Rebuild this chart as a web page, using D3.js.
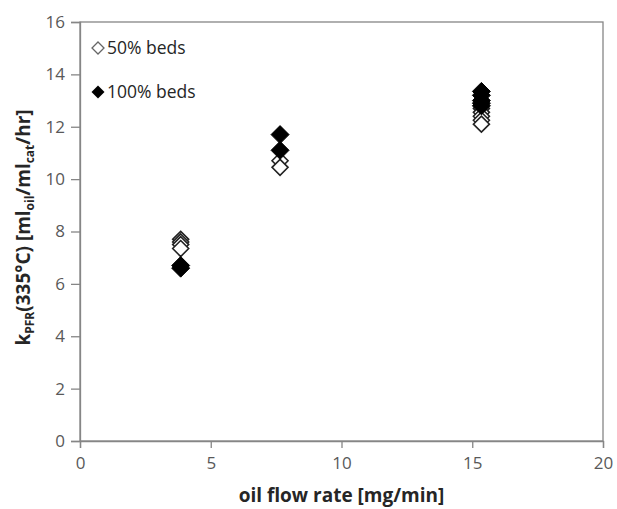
<!DOCTYPE html>
<html><head><meta charset="utf-8">
<script src="https://cdn.jsdelivr.net/npm/d3@7"></script>
<style>body{margin:0;background:#fff}svg{display:block}</style>
</head><body>
<script>
const seriesNames = ["50% beds", "100% beds"];
const x50 = [3.85, 3.85, 3.85, 3.85, 7.65, 7.65, 15.35, 15.35, 15.35, 15.35, 15.35];
const y50 = [7.7, 7.6, 7.5, 7.35, 10.7, 10.45, 12.7, 12.55, 12.4, 12.25, 12.1];
const x100 = [3.85, 3.85, 7.65, 7.65, 15.35, 15.35, 15.35, 15.35, 15.35];
const y100 = [6.7, 6.6, 11.1, 11.7, 13.35, 13.2, 13.0, 12.9, 12.8];
const xTicks = [0, 5, 10, 15, 20];
const yTicks = [0, 2, 4, 6, 8, 10, 12, 14, 16];

const W = 617, H = 509;
const m = {l: 80, r: 14, t: 22, b: 68};
const svg = d3.select("body").append("svg").attr("width", W).attr("height", H);
const x = d3.scaleLinear().domain([0, 20]).range([m.l, W - m.r]);
const y = d3.scaleLinear().domain([0, 16]).range([H - m.b, m.t]);
const font = "'Open Sans', sans-serif";
const axisCol = "#868686";

svg.append("rect").attr("x", x(0)).attr("y", y(16)).attr("width", x(20) - x(0)).attr("height", y(0) - y(16))
  .attr("fill", "none").attr("stroke", axisCol).attr("stroke-width", 1.3);

const xa = svg.append("g").attr("transform", `translate(0,${y(0)})`)
  .call(d3.axisBottom(x).tickValues(xTicks).tickSize(7).tickPadding(9).tickFormat(d3.format("d")));
const ya = svg.append("g").attr("transform", `translate(${x(0)},0)`)
  .call(d3.axisLeft(y).tickValues(yTicks).tickSize(9).tickPadding(6).tickFormat(d3.format("d")));
[xa, ya].forEach(g => {
  g.select(".domain").attr("stroke", axisCol).attr("stroke-width", 1.3);
  g.selectAll(".tick line").attr("stroke", axisCol).attr("stroke-width", 1.3);
  g.selectAll(".tick text").attr("fill", "#595959").attr("font-size", 17).attr("font-family", font);
});

function dpath(r) { return `M0,${-r}L${r},0L0,${r}L${-r},0Z`; }

svg.append("g").selectAll("path").data(x50.map((v, i) => [v, y50[i]])).join("path")
  .attr("d", dpath(8)).attr("transform", d => `translate(${x(d[0])},${y(d[1])})`)
  .attr("fill", "#fff").attr("stroke", "#222").attr("stroke-width", 1.6);
svg.append("g").selectAll("path").data(x100.map((v, i) => [v, y100[i]])).join("path")
  .attr("d", dpath(9)).attr("transform", d => `translate(${x(d[0])},${y(d[1])})`)
  .attr("fill", "#000").attr("stroke", "#000").attr("stroke-width", 1);

const lg = svg.append("g");
lg.append("path").attr("d", dpath(6)).attr("transform", "translate(98,48)")
  .attr("fill", "#fff").attr("stroke", "#666").attr("stroke-width", 1.3);
lg.append("text").attr("x", 107).attr("y", 54).text(seriesNames[0])
  .attr("font-family", font).attr("font-size", 17.5).attr("fill", "#262626");
lg.append("path").attr("d", dpath(6.5)).attr("transform", "translate(98,92)").attr("fill", "#000");
lg.append("text").attr("x", 107).attr("y", 98).text(seriesNames[1])
  .attr("font-family", font).attr("font-size", 17.5).attr("fill", "#262626");

svg.append("text").attr("x", (x(0) + x(20)) / 2).attr("y", 502).attr("text-anchor", "middle")
  .attr("font-family", font).attr("font-weight", "bold").attr("font-size", 19).attr("fill", "#262626")
  .text("oil flow rate [mg/min]");
const yt = svg.append("text").attr("transform", `translate(30,${(y(0) + y(16)) / 2 - 4}) rotate(-90)`)
  .attr("text-anchor", "middle").attr("font-family", font).attr("font-weight", "bold")
  .attr("font-size", 19).attr("fill", "#262626");
yt.append("tspan").text("k");
yt.append("tspan").attr("font-size", 12).attr("dy", 4).text("PFR");
yt.append("tspan").attr("dy", -4).text("(335°C) [ml");
yt.append("tspan").attr("font-size", 12).attr("dy", 4).text("oil");
yt.append("tspan").attr("dy", -4).text("/ml");
yt.append("tspan").attr("font-size", 12).attr("dy", 4).text("cat");
yt.append("tspan").attr("dy", -4).text("/hr]");
</script>
</body></html>
